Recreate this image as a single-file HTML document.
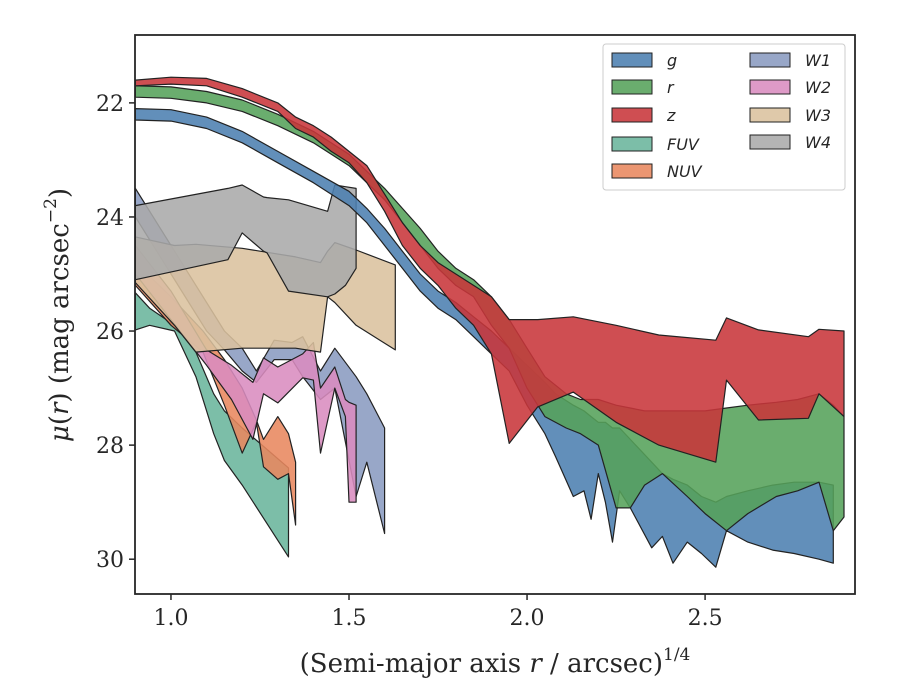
<!DOCTYPE html>
<html><head><meta charset="utf-8"><style>
body{margin:0;background:#fff}
svg{display:block}
.tick{font-family:"DejaVu Serif","Liberation Serif",serif;font-size:22px;fill:#262626}
.lab{font-family:"DejaVu Serif","Liberation Serif",serif;font-size:26px;fill:#262626}
.leg{font-family:"DejaVu Sans","Liberation Sans",sans-serif;font-size:16px;font-style:italic;fill:#262626}
</style></head><body>
<svg id="chart" width="900" height="700" viewBox="0 0 900 700">
<rect width="900" height="700" fill="#fff"/>
<g id="bands"></g>
<rect x="135" y="35" width="720" height="559" fill="none" stroke="#262626" stroke-width="1.8"/>
<g id="axes"></g>
<text class="lab" x="495" y="672" text-anchor="middle">(Semi-major axis <tspan font-style="italic">r</tspan> / arcsec)<tspan font-size="17" dy="-12">1/4</tspan></text>
<text class="lab" transform="translate(68,315) rotate(-90)" text-anchor="middle"><tspan font-style="italic">μ</tspan>(<tspan font-style="italic">r</tspan>) (mag arcsec<tspan font-size="17" dy="-12">−2</tspan><tspan dy="12">)</tspan></text>
<g id="legend">
<rect x="603" y="44" width="242" height="146" rx="3" fill="#fff" fill-opacity="0.85" stroke="#cccccc" stroke-width="1"/>
</g>
</svg>
<script>
const xTicks=[1.0,1.5,2.0,2.5];
const yTicks=[22,24,26,28,30];
const bandNames=["FUV","NUV","W1","W2","W3","W4","g","r","z"];
const gX=[0.9,1.0,1.1,1.2,1.3,1.4,1.5,1.55,1.6,1.65,1.7,1.75,1.8,1.85,1.9,1.95,2.0,2.05,2.08,2.13,2.16,2.18,2.2,2.22,2.24,2.26,2.29,2.35,2.38,2.41,2.45,2.49,2.53,2.56,2.62,2.69,2.75,2.82,2.86];
const gTop=[22.1,22.12,22.25,22.5,22.85,23.2,23.55,23.85,24.2,24.6,25.0,25.3,25.5,25.75,26.0,26.3,26.6,26.9,27.1,27.3,27.4,27.5,27.6,27.6,27.7,27.7,27.9,28.3,28.5,28.6,28.7,28.9,29.0,28.9,28.8,28.7,28.65,28.65,28.7];
const gBot=[22.3,22.32,22.45,22.7,23.05,23.4,23.8,24.1,24.5,24.9,25.3,25.6,25.8,26.1,26.4,26.7,27.3,27.8,28.2,28.9,28.8,29.3,28.5,29.0,29.7,28.8,29.1,29.8,29.6,30.07,29.7,29.9,30.14,29.5,29.7,29.84,29.9,30.0,30.07];
const rX=[0.9,1.0,1.1,1.2,1.3,1.4,1.5,1.6,1.7,1.75,1.8,1.85,1.9,1.95,2.0,2.05,2.11,2.15,2.2,2.25,2.29,2.33,2.38,2.45,2.5,2.56,2.62,2.7,2.76,2.82,2.86,2.89];
const rTop=[21.7,21.72,21.8,21.95,22.2,22.5,22.9,23.5,24.2,24.6,24.9,25.1,25.4,25.8,26.3,26.8,27.1,27.2,27.2,27.3,27.35,27.4,27.4,27.4,27.4,27.35,27.3,27.25,27.2,27.1,27.3,27.5];
const rBot=[21.9,21.92,22.0,22.15,22.4,22.7,23.1,23.7,24.5,24.9,25.2,25.4,25.9,26.3,27.0,27.5,27.7,27.8,28.0,29.1,29.1,28.7,28.5,28.9,29.2,29.5,29.2,28.9,28.8,28.65,29.5,29.26];
const zX=[0.9,1.0,1.1,1.2,1.3,1.35,1.4,1.45,1.5,1.55,1.6,1.65,1.7,1.75,1.8,1.85,1.9,1.95,2.03,2.13,2.25,2.37,2.53,2.56,2.65,2.79,2.82,2.89];
const zTop=[21.6,21.55,21.57,21.75,22.0,22.25,22.4,22.6,22.85,23.1,23.6,24.1,24.5,24.8,25.0,25.2,25.4,25.8,25.8,25.75,25.9,26.07,26.16,25.77,25.98,26.1,25.97,26.0];
const zBot=[21.7,21.67,21.7,21.9,22.15,22.45,22.6,22.85,23.05,23.4,23.9,24.5,24.9,25.2,25.6,25.9,26.4,27.97,27.33,27.07,27.6,28.0,28.3,26.86,27.56,27.53,27.1,27.5];
const w4X=[0.9,1.16,1.2,1.26,1.27,1.33,1.44,1.46,1.49,1.52];
const w4Top=[23.8,23.5,23.44,23.65,23.66,23.7,23.9,23.44,23.47,23.5];
const w4Bot=[25.1,24.75,24.28,24.6,24.63,25.3,25.4,25.35,25.2,24.9];
const w3X=[0.9,1.01,1.07,1.2,1.35,1.42,1.44,1.46,1.52,1.63];
const w3Top=[24.35,24.5,24.48,24.55,24.7,24.8,24.6,24.45,24.58,24.84];
const w3Bot=[25.15,25.9,26.37,26.3,26.3,26.37,25.4,25.5,25.9,26.33];
const fuvX=[0.9,0.94,1.01,1.07,1.12,1.15,1.2,1.33];
const fuvTop=[25.33,25.6,25.9,26.37,27.1,27.4,27.7,28.4];
const fuvBot=[25.98,25.9,26.0,26.8,27.8,28.27,28.7,29.96];
const nuvX=[0.9,1.0,1.09,1.15,1.2,1.24,1.26,1.3,1.33,1.35];
const nuvTop=[24.8,25.4,26.0,26.5,27.0,27.56,27.9,27.5,27.8,28.3];
const nuvBot=[25.2,25.9,26.37,27.3,28.14,27.6,28.38,28.6,28.5,29.4];
const w1X=[0.9,1.0,1.1,1.15,1.2,1.24,1.29,1.34,1.37,1.42,1.46,1.52,1.55,1.6];
const w1Top=[23.5,24.5,25.5,26.0,26.3,26.7,26.16,26.2,26.1,26.7,26.3,26.8,27.1,27.7];
const w1Bot=[24.0,25.0,26.0,26.33,26.7,26.9,26.5,26.5,26.8,27.2,27.0,28.9,28.3,29.55];
const w2X=[0.9,1.0,1.1,1.17,1.23,1.26,1.3,1.37,1.4,1.42,1.46,1.49,1.5,1.52];
const w2Top=[24.5,25.3,26.33,26.6,26.9,26.47,26.63,26.4,26.2,27.0,26.63,27.2,27.25,27.3];
const w2Bot=[25.0,25.8,26.6,27.2,27.9,27.1,27.26,26.82,26.86,28.14,27.0,27.5,29.0,29.0];

const NS="http://www.w3.org/2000/svg";
const X0=135,X1=855,Y0=35,Y1=594;
const xMin=0.899,xMax=2.921,yMin=20.81,yMax=30.61;
function sx(v){return X0+(v-xMin)/(xMax-xMin)*(X1-X0);}
function sy(v){return Y0+(v-yMin)/(yMax-yMin)*(Y1-Y0);}
const series={
 g:{x:gX,t:gTop,b:gBot,c:"#4c7fb0"},
 r:{x:rX,t:rTop,b:rBot,c:"#55a25a"},
 z:{x:zX,t:zTop,b:zBot,c:"#c8353a"},
 FUV:{x:fuvX,t:fuvTop,b:fuvBot,c:"#6ab59c"},
 NUV:{x:nuvX,t:nuvTop,b:nuvBot,c:"#e8875f"},
 W1:{x:w1X,t:w1Top,b:w1Bot,c:"#8a9bc0"},
 W2:{x:w2X,t:w2Top,b:w2Bot,c:"#d98cbf"},
 W3:{x:w3X,t:w3Top,b:w3Bot,c:"#dbc29e"},
 W4:{x:w4X,t:w4Top,b:w4Bot,c:"#aaaaaa"}
};
const bands=document.getElementById('bands');
bandNames.forEach(n=>{
 const s=series[n];let pts=[];
 for(let i=0;i<s.x.length;i++)pts.push(sx(s.x[i]).toFixed(1)+","+sy(s.t[i]).toFixed(1));
 for(let i=s.x.length-1;i>=0;i--)pts.push(sx(s.x[i]).toFixed(1)+","+sy(s.b[i]).toFixed(1));
 const p=document.createElementNS(NS,'polygon');
 p.setAttribute('points',pts.join(' '));
 p.setAttribute('fill',s.c);p.setAttribute('fill-opacity','0.88');
 p.setAttribute('stroke','#222');p.setAttribute('stroke-width','1.2');p.setAttribute('stroke-linejoin','round');
 
 
 bands.appendChild(p);
});
const axes=document.getElementById('axes');
xTicks.forEach(v=>{
 const l=document.createElementNS(NS,'line');
 l.setAttribute('x1',sx(v));l.setAttribute('x2',sx(v));l.setAttribute('y1',Y1);l.setAttribute('y2',Y1+6);
 l.setAttribute('stroke','#262626');l.setAttribute('stroke-width','1.5');
 
 
 axes.appendChild(l);
 const t=document.createElementNS(NS,'text');
 t.setAttribute('class','tick');t.setAttribute('x',sx(v));t.setAttribute('y',Y1+31);t.setAttribute('text-anchor','middle');
 t.textContent=v.toFixed(1);
 
 
 axes.appendChild(t);
});
yTicks.forEach(v=>{
 const l=document.createElementNS(NS,'line');
 l.setAttribute('x1',X0-6);l.setAttribute('x2',X0);l.setAttribute('y1',sy(v));l.setAttribute('y2',sy(v));
 l.setAttribute('stroke','#262626');l.setAttribute('stroke-width','1.5');
 
 
 axes.appendChild(l);
 const t=document.createElementNS(NS,'text');
 t.setAttribute('class','tick');t.setAttribute('x',X0-11);t.setAttribute('y',sy(v)+8);t.setAttribute('text-anchor','end');
 t.textContent=String(v);
 
 
 axes.appendChild(t);
});
const legOrder=[["g",612,53],["r",612,80],["z",612,108],["FUV",612,137],["NUV",612,164],["W1",750,53],["W2",750,80],["W3",750,108],["W4",750,135]];
const leg=document.getElementById('legend');
legOrder.forEach(e=>{
 const r=document.createElementNS(NS,'rect');
 r.setAttribute('x',e[1]);r.setAttribute('y',e[2]);r.setAttribute('width',40);r.setAttribute('height',14);
 r.setAttribute('fill',series[e[0]].c);r.setAttribute('fill-opacity','0.88');r.setAttribute('stroke','#222');r.setAttribute('stroke-width','1');
 
 
 leg.appendChild(r);
 const t=document.createElementNS(NS,'text');
 t.setAttribute('class','leg');t.setAttribute('x',e[1]+55);t.setAttribute('y',e[2]+13);
 t.textContent=e[0];
 
 
 leg.appendChild(t);
});
</script>
</body></html>
